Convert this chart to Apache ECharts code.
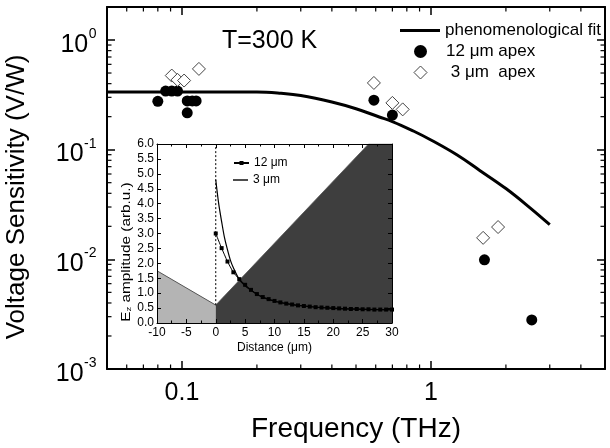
<!DOCTYPE html>
<html><head><meta charset="utf-8">
<script src="https://cdn.jsdelivr.net/npm/echarts@6/dist/echarts.min.js"></script>
<style>html,body{margin:0;padding:0;background:#fff}#c{width:610px;height:448px}</style>
</head><body><div id="c"></div>
<script>
// ---- main chart data ----
const fitFreq = [0.05, 0.1, 0.15, 0.2, 0.25, 0.3, 0.4, 0.5, 0.62, 0.7, 0.85, 1.0, 1.27, 1.57, 2.0, 2.5, 3.0];
const fitVal  = [0.3351, 0.3351, 0.3351, 0.335, 0.3262, 0.3117, 0.2718, 0.2360, 0.1987, 0.1806, 0.1480, 0.1226, 0.0898, 0.0647, 0.0442, 0.0295, 0.0207];
const apex12Freq = [0.080, 0.086, 0.091, 0.096, 0.105, 0.110, 0.114, 0.105, 0.59, 0.70, 1.64, 2.54];
const apex12Val  = [0.276, 0.342, 0.342, 0.342, 0.278, 0.278, 0.278, 0.217, 0.283, 0.207, 0.0099, 0.0028];
const apex3Freq = [0.091, 0.096, 0.102, 0.117, 0.59, 0.70, 0.77, 1.62, 1.86];
const apex3Val  = [0.474, 0.433, 0.427, 0.545, 0.406, 0.267, 0.233, 0.0157, 0.0197];
const xTickLabels = {'0.1': '0.1', '1': '1'};
const yTickExps = [-3, -2, -1, 0];
const xMinorTicks = [0.06, 0.07, 0.08, 0.09, 0.2, 0.3, 0.4, 0.5, 0.6, 0.7, 0.8, 0.9, 2, 3, 4];
const yMinorTicks = [0.002,0.003,0.004,0.005,0.006,0.007,0.008,0.009,
                     0.02,0.03,0.04,0.05,0.06,0.07,0.08,0.09,
                     0.2,0.3,0.4,0.5,0.6,0.7,0.8,0.9];
// ---- inset data ----
const dist12 = [0,1,2,3,4,5,6,7,8,9,10,11,12,13,14,15,16,17,18,19,20,21,22,23,24,25,26,27,28,29,30];
const ez12   = [3.0,2.51,2.06,1.70,1.47,1.28,1.11,0.97,0.87,0.80,0.74,0.69,0.65,0.62,0.59,0.57,0.55,0.53,0.52,0.51,0.50,0.49,0.48,0.47,0.47,0.46,0.46,0.45,0.45,0.45,0.45];
const dist3 = [0,0.5,1,1.5,2,2.5,3,4,5,6,7,8,10,12,15,20,25,30];
const ez3   = [4.8,4.0,3.4,2.85,2.45,2.1,1.85,1.46,1.25,1.1,0.96,0.86,0.73,0.65,0.57,0.49,0.46,0.44];
const grayX = [-10, 0];
const grayY = [1.75, 0.6];
const darkX = [0, 26, 30];
const darkY = [0.6, 6.0, 6.0];
const dashX = [0, 0];
const dashY = [0.6, 6.0];

const FONT = '"Liberation Sans", Arial, Helvetica, sans-serif';
const zip = (a, b) => a.map((v, i) => [v, b[i]]);
const mctx = document.createElement('canvas').getContext('2d');
function textW(t, size) { mctx.font = size + 'px ' + FONT; return mctx.measureText(t).width; }

const chart = echarts.init(document.getElementById('c'));

function tickSeries(vals, isX) {
  return {
    type: 'custom', xAxisIndex: 0, yAxisIndex: 0, silent: true, clip: false, z: 10,
    data: vals.map(v => isX ? [v, 1] : [1, v]),
    renderItem: function (params, api) {
      const L = 4.5;
      const st = {stroke: '#000', lineWidth: 1.2};
      if (isX) {
        const v = api.value(0);
        const b = api.coord([v, 0.001]), t = api.coord([v, 2]);
        return {type: 'group', children: [
          {type: 'line', shape: {x1: b[0], y1: b[1], x2: b[0], y2: b[1] - L}, style: st},
          {type: 'line', shape: {x1: t[0], y1: t[1], x2: t[0], y2: t[1] + L}, style: st}
        ]};
      } else {
        const v = api.value(1);
        const l = api.coord([0.05, v]), r = api.coord([5, v]);
        return {type: 'group', children: [
          {type: 'line', shape: {x1: l[0], y1: l[1], x2: l[0] + L, y2: l[1]}, style: st},
          {type: 'line', shape: {x1: r[0], y1: r[1], x2: r[0] - L, y2: r[1]}, style: st}
        ]};
      }
    }
  };
}

// y tick labels of the main axis: "10" with superscript exponent
const yLabelSeries = {
  type: 'custom', xAxisIndex: 0, yAxisIndex: 0, silent: true, clip: false, z: 10,
  data: yTickExps.map(e => [0.05, Math.pow(10, e)]),
  renderItem: function (params, api) {
    const p = api.coord([api.value(0), api.value(1)]);
    const sup = String(yTickExps[params.dataIndex]);
    const sw = textW(sup, 14);
    const xr = p[0] - 10.5;
    return {type: 'group', children: [
      {type: 'text', style: {text: '10', x: xr - sw - 0.5, y: p[1] + 4.7, align: 'right', verticalAlign: 'middle',
        font: '25px ' + FONT, fill: '#000'}},
      {type: 'text', style: {text: sup, x: xr - sw, y: p[1] - 6, align: 'left', verticalAlign: 'middle',
        font: '14px ' + FONT, fill: '#000'}}
    ]};
  }
};

const mainAxisLine = {show: true, onZero: false, lineStyle: {color: '#000', width: 2}};
const mainTick = {show: true, inside: true, length: 8, lineStyle: {color: '#000', width: 1.5}};
const insetAxisLine = {show: true, onZero: false, lineStyle: {color: '#000', width: 1}};
const insetTick = {show: true, inside: true, length: 4, lineStyle: {color: '#000', width: 1}};
const legendText = {fontSize: 17, color: '#000', fontFamily: FONT};
const insetLegendText = {fontSize: 12, color: '#000', fontFamily: FONT};

const option = {
  backgroundColor: '#fff',
  animation: false,
  textStyle: {fontFamily: FONT},
  title: {text: 'T=300 K', left: 217, top: 24, textStyle: {fontSize: 25, fontWeight: 'normal', color: '#000', fontFamily: FONT}},
  legend: [
    {data: [{name: 'phenomenological fit', icon: 'rect', itemStyle: {color: '#000'}}], left: 395, top: 17, orient: 'vertical',
     itemWidth: 40, itemHeight: 3, textStyle: legendText},
    {data: [{name: '12 μm apex', icon: 'circle', itemStyle: {color: '#000', opacity: 1}},
            {name: ' 3 μm  apex', icon: 'diamond', itemStyle: {color: '#fff', borderColor: '#444', borderWidth: 1, opacity: 1}}],
     left: 408.5, top: 38, orient: 'vertical',
     itemWidth: 13, itemHeight: 13, itemGap: 4, textStyle: Object.assign({padding: [0, 0, 0, 14]}, legendText)},
    {data: ['12 μm'], left: 228, top: 152, z: 20, itemWidth: 15, itemHeight: 5, textStyle: insetLegendText},
    {data: [{name: '3 μm', icon: 'rect', itemStyle: {color: '#000'}}], left: 228, top: 169, z: 20, itemWidth: 15, itemHeight: 1.4, textStyle: insetLegendText}
  ],
  grid: [
    {left: 107, right: 5, top: 7, bottom: 76, show: false},
    {left: 157, top: 144, width: 235, height: 179, show: true, backgroundColor: '#fff', borderWidth: 0, z: 5}
  ],
  xAxis: [
    {type: 'log', gridIndex: 0, min: 0.05, max: 5, logBase: 10, position: 'bottom',
     axisLine: mainAxisLine, axisTick: mainTick, splitLine: {show: false},
     axisLabel: {margin: 12, fontSize: 25, color: '#000', fontFamily: FONT,
       formatter: v => { const k = String(+v.toPrecision(3)); return xTickLabels[k] || ''; }},
     name: 'Frequency (THz)', nameLocation: 'middle', nameGap: 46,
     nameTextStyle: {fontSize: 28, color: '#000', fontFamily: FONT}},
    {type: 'log', gridIndex: 0, min: 0.05, max: 5, logBase: 10, position: 'top',
     axisLine: mainAxisLine, axisTick: mainTick, splitLine: {show: false}, axisLabel: {show: false}},
    {type: 'value', gridIndex: 1, min: -10, max: 30, interval: 5, position: 'bottom', z: 6,
     axisLine: insetAxisLine, axisTick: insetTick, splitLine: {show: false},
     minorTick: {show: true, splitNumber: 2, length: 2.5, lineStyle: {color: '#000'}},
     axisLabel: {margin: 4, fontSize: 12, color: '#000', fontFamily: FONT},
     name: 'Distance (μm)', nameLocation: 'middle', nameGap: 19,
     nameTextStyle: {fontSize: 12, color: '#000', fontFamily: FONT}},
    {type: 'value', gridIndex: 1, min: -10, max: 30, interval: 5, position: 'top', z: 6,
     axisLine: insetAxisLine, axisTick: insetTick, splitLine: {show: false},
     minorTick: {show: true, splitNumber: 2, length: 2.5, lineStyle: {color: '#000'}},
     axisLabel: {show: false}}
  ],
  yAxis: [
    {type: 'log', gridIndex: 0, min: 0.001, max: 2, logBase: 10, position: 'left',
     axisLine: mainAxisLine, axisTick: mainTick, splitLine: {show: false}, axisLabel: {show: false}},
    {type: 'log', gridIndex: 0, min: 0.001, max: 2, logBase: 10, position: 'right',
     axisLine: mainAxisLine, axisTick: mainTick, splitLine: {show: false}, axisLabel: {show: false}},
    {type: 'value', gridIndex: 1, min: 0, max: 6, interval: 0.5, position: 'left', z: 6,
     axisLine: insetAxisLine, axisTick: insetTick, splitLine: {show: false},
     axisLabel: {margin: 3, fontSize: 12, color: '#000', fontFamily: FONT, formatter: v => v.toFixed(1)}},
    {type: 'value', gridIndex: 1, min: 0, max: 6, interval: 0.5, position: 'right', z: 6,
     axisLine: insetAxisLine, axisTick: insetTick, splitLine: {show: false}, axisLabel: {show: false}}
  ],
  graphic: [
    {type: 'text', x: 17, y: 197, rotation: Math.PI / 2, z: 20,
     style: {text: 'Voltage Sensitivity (V/W)', align: 'center', verticalAlign: 'middle',
       fontSize: 26, fontFamily: FONT, fill: '#000'}},
    {type: 'text', x: 126, y: 252, rotation: Math.PI / 2, z: 20, scaleX: 1.18,
     style: {text: '{a|E}{s|z}{a| amplitude (arb.u.)}', align: 'center', verticalAlign: 'middle',
       rich: {a: {fontSize: 13, fontFamily: FONT, fill: '#000'}, s: {fontSize: 8, fontFamily: FONT, fill: '#000', verticalAlign: 'bottom'}}}}
  ],
  series: [
    {name: 'phenomenological fit', type: 'line', xAxisIndex: 0, yAxisIndex: 0, data: zip(fitFreq, fitVal),
     smooth: 0.4, showSymbol: false, symbol: 'none', lineStyle: {color: '#000', width: 3}, itemStyle: {color: '#000'}, z: 3},
    {name: '12 μm apex', type: 'scatter', xAxisIndex: 0, yAxisIndex: 0, data: zip(apex12Freq, apex12Val),
     symbol: 'circle', symbolSize: 11, itemStyle: {color: '#000', opacity: 1}, z: 4},
    {name: ' 3 μm  apex', type: 'scatter', xAxisIndex: 0, yAxisIndex: 0, data: zip(apex3Freq, apex3Val),
     symbol: 'diamond', symbolSize: 13, itemStyle: {color: '#fff', borderColor: '#444', borderWidth: 1, opacity: 1}, z: 4},
    tickSeries(xMinorTicks, true),
    tickSeries(yMinorTicks, false),
    yLabelSeries,
    {name: 'gray', type: 'line', xAxisIndex: 2, yAxisIndex: 2, data: zip(grayX, grayY), symbol: 'none',
     lineStyle: {color: '#555', width: 1}, areaStyle: {color: '#b4b4b4', opacity: 1}, z: 5},
    {name: 'dark', type: 'line', xAxisIndex: 2, yAxisIndex: 2, data: zip(darkX, darkY), symbol: 'none',
     lineStyle: {color: '#555', width: 0.8}, areaStyle: {color: '#3e3e3e', opacity: 1}, z: 5},
    {name: 'dash', type: 'line', xAxisIndex: 2, yAxisIndex: 2, data: zip(dashX, dashY), symbol: 'none',
     lineStyle: {color: '#000', width: 1, type: [2, 2]}, z: 6},
    {name: '12 μm', type: 'line', xAxisIndex: 2, yAxisIndex: 2, data: zip(dist12, ez12), symbol: 'rect', symbolSize: 4,
     showSymbol: true, smooth: 0.2, lineStyle: {color: '#000', width: 1}, itemStyle: {color: '#000'}, z: 7},
    {name: '3 μm', type: 'line', xAxisIndex: 2, yAxisIndex: 2, data: zip(dist3, ez3), symbol: 'none',
     smooth: 0.3, lineStyle: {color: '#000', width: 1.2}, itemStyle: {color: '#000'}, z: 7}
  ]
};
chart.setOption(option);
</script></body></html>
